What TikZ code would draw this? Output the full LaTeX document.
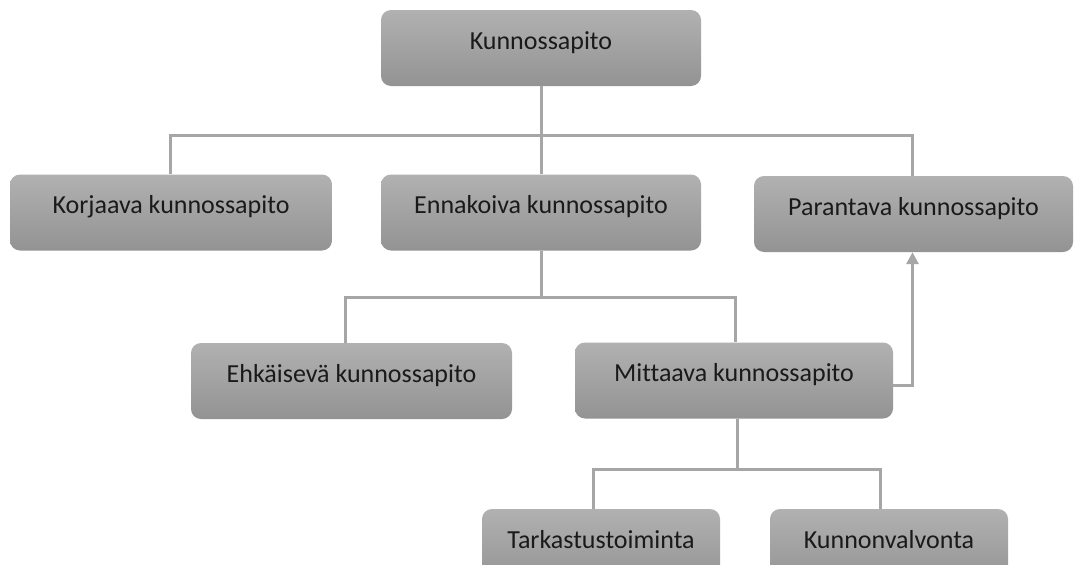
\documentclass[tikz,border=0pt]{standalone}
\usepackage{fontspec}
\setmainfont{Carlito}[Ligatures={NoCommon}]
\usetikzlibrary{arrows.meta}
\definecolor{boxtop}{HTML}{B1B1B1}
\definecolor{boxbot}{HTML}{939393}
\definecolor{linegray}{HTML}{A6A6A6}
\definecolor{txt}{HTML}{1A1A1A}
\tikzset{
  box/.style={rectangle, rounded corners=10pt, top color=boxtop, bottom color=boxbot,
    draw=none, minimum height=76pt, inner sep=0pt, text=txt,
    font=\fontsize{26}{30}\selectfont, text height=0.75em, text depth=0.25em+3pt},
  conn/.style={draw=linegray, line width=3pt},
  arr/.style={conn, -{Triangle[length=12pt,width=12pt]}}
}
\begin{document}
\begin{tikzpicture}[x=1pt,y=-1pt]
\clip (0,0) rectangle (1074,565);
\fill[white] (0,0) rectangle (1074,565);
\node[box, minimum width=320pt] (top) at (541,48) {Kunnossapito};
\node[box, minimum width=322pt] (korj) at (171,212.5) {Korjaava kunnossapito};
\node[box, minimum width=320pt] (enn) at (541,212.5) {Ennakoiva kunnossapito};
\node[box, minimum width=319pt] (par) at (913.5,214) {Parantava kunnossapito};
\node[box, minimum width=321pt] (ehk) at (351.5,381) {Ehkäisevä kunnossapito};
\node[box, minimum width=318pt] (mit) at (734,380.5) {Mittaava kunnossapito};
\node[box, minimum width=238pt] (tark) at (601,547) {Tarkastustoiminta};
\node[box, minimum width=238pt] (kunn) at (889,547) {Kunnonvalvonta};
\coordinate (b1) at (541,135);
\coordinate (b2) at (541,297);
\coordinate (b3) at (737,469);
\draw[conn] (top.south) -- (b1);
\draw[conn] (b1) -| ([xshift=-1pt]korj.north);
\draw[conn] (b1) -- (enn.north);
\draw[conn] (b1) -| ([xshift=-1.5pt]par.north);
\draw[conn] (enn.south) -- (b2);
\draw[conn] (b2) -| ([xshift=-6.5pt]ehk.north);
\draw[conn] (b2) -| ([xshift=1pt]mit.north);
\draw[conn] ([xshift=3pt]mit.south) -- (b3);
\draw[conn] (b3) -| ([xshift=-8pt]tark.north);
\draw[conn] (b3) -| ([xshift=-9pt]kunn.north);
\draw[arr] ([yshift=-4.5pt]mit.east) -| ([xshift=-1pt]par.south);
\end{tikzpicture}
\end{document}
